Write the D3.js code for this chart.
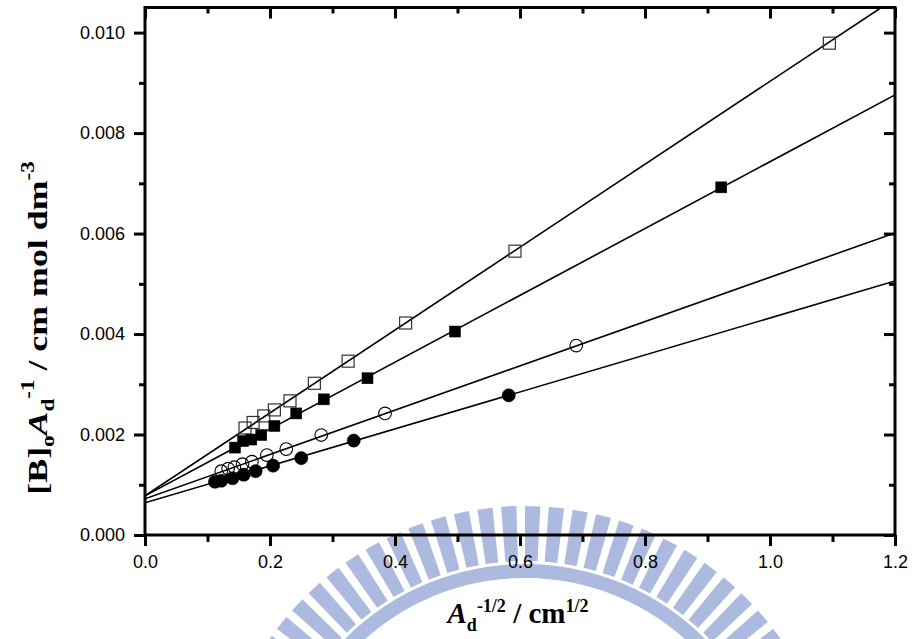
<!DOCTYPE html>
<html>
<head>
<meta charset="utf-8">
<script src="https://cdn.jsdelivr.net/npm/d3@7"></script>
<style>
  html, body { margin: 0; padding: 0; background: #fff; }
  svg { display: block; }
</style>
</head>
<body>
<svg id="chart" width="914" height="639"></svg>
<script>
// ---------------- data ----------------
const openSqX   = [0.160, 0.173, 0.190, 0.207, 0.232, 0.271, 0.325, 0.417, 0.592, 1.095];
const openSqY   = [0.00213, 0.00224, 0.00237, 0.00249, 0.00267, 0.00302, 0.00346, 0.00422, 0.00565, 0.00979];
const fillSqX   = [0.144, 0.157, 0.170, 0.186, 0.207, 0.242, 0.286, 0.356, 0.496, 0.922];
const fillSqY   = [0.00174, 0.00187, 0.00190, 0.00199, 0.00217, 0.00242, 0.00270, 0.00312, 0.00405, 0.00692];
const openCirX  = [0.122, 0.133, 0.143, 0.156, 0.171, 0.195, 0.226, 0.282, 0.384, 0.690];
const openCirY  = [0.00127, 0.00132, 0.00135, 0.00141, 0.00146, 0.00159, 0.00171, 0.00199, 0.00242, 0.00377];
const fillCirX  = [0.112, 0.122, 0.140, 0.158, 0.177, 0.205, 0.250, 0.334, 0.582];
const fillCirY  = [0.00106, 0.00108, 0.00113, 0.00120, 0.00127, 0.00138, 0.00153, 0.00188, 0.00278];
// linear fits: intercept and slope for each series (same order)
const fitIntercepts = [0.00078, 0.00078, 0.00072, 0.00064];
const fitSlopes     = [0.00825, 0.00665, 0.00441, 0.00368];
const xTickLabels = [0.0, 0.2, 0.4, 0.6, 0.8, 1.0, 1.2];
const yTickLabels = [0.000, 0.002, 0.004, 0.006, 0.008, 0.010];
const xMinorTicks = [0.1, 0.3, 0.5, 0.7, 0.9, 1.1];
const yMinorTicks = [0.001, 0.003, 0.005, 0.007, 0.009];

// ---------------- layout ----------------
const svg = d3.select("#chart");
const L = 145, R = 895, T = 7.5, B = 535;
const x = d3.scaleLinear().domain([0, 1.2]).range([L, R]);
const y = d3.scaleLinear().domain([0, 0.0105]).range([B, T]);

const series = [
  {xs: openSqX,  ys: openSqY,  shape: "sq",  filled: false},
  {xs: fillSqX,  ys: fillSqY,  shape: "sq",  filled: true},
  {xs: openCirX, ys: openCirY, shape: "cir", filled: false},
  {xs: fillCirX, ys: fillCirY, shape: "cir", filled: true}
];

// fit lines, clipped to the plot
svg.append("clipPath").attr("id", "clip")
  .append("rect").attr("x", L).attr("y", T).attr("width", R - L).attr("height", B - T);
const lineG = svg.append("g").attr("clip-path", "url(#clip)");
fitIntercepts.forEach((b, i) => {
  const m = fitSlopes[i];
  const xEnd = Math.min(1.2, (0.0105 - b) / m);
  lineG.append("line")
    .attr("x1", x(0)).attr("y1", y(b))
    .attr("x2", x(xEnd)).attr("y2", y(b + m * xEnd))
    .attr("stroke", "#000").attr("stroke-width", 1.6);
});

// markers
series.forEach(s => {
  const g = svg.append("g");
  const pts = s.xs.map((v, i) => [v, s.ys[i]]);
  if (s.shape === "sq") {
    const size = s.filled ? 11 : 12;
    g.selectAll("rect").data(pts).join("rect")
      .attr("x", d => x(d[0]) - size / 2).attr("y", d => y(d[1]) - size / 2)
      .attr("width", size).attr("height", size)
      .attr("fill", s.filled ? "#000" : "none")
      .attr("stroke", s.filled ? "#000" : "#333").attr("stroke-width", s.filled ? 0.5 : 1.2);
  } else {
    g.selectAll("circle").data(pts).join("circle")
      .attr("cx", d => x(d[0])).attr("cy", d => y(d[1]))
      .attr("r", s.filled ? 6.6 : 6.3)
      .attr("fill", s.filled ? "#000" : "none")
      .attr("stroke", "#000").attr("stroke-width", s.filled ? 0.5 : 1.1);
  }
});

// ---------------- axes ----------------
function styleAxis(g) {
  g.select(".domain").remove();
  g.selectAll(".tick line").attr("stroke", "#000").attr("stroke-width", 3);
  g.selectAll(".tick text").attr("font-family", "Liberation Sans, Arial, sans-serif")
    .attr("font-size", 18).attr("fill", "#000");
}
// bottom
svg.append("g").attr("transform", `translate(0,${B})`)
  .call(d3.axisBottom(x).tickValues(xTickLabels).tickSize(11).tickPadding(9).tickFormat(d3.format(".1f")))
  .call(styleAxis);
svg.append("g").attr("transform", `translate(0,${B})`)
  .call(d3.axisBottom(x).tickValues(xMinorTicks).tickSize(7).tickFormat(""))
  .call(styleAxis);
// top (inward)
svg.append("g").attr("transform", `translate(0,${T})`)
  .call(d3.axisBottom(x).tickValues(xTickLabels).tickSize(11).tickFormat(""))
  .call(styleAxis);
svg.append("g").attr("transform", `translate(0,${T})`)
  .call(d3.axisBottom(x).tickValues(xMinorTicks).tickSize(6).tickFormat(""))
  .call(styleAxis);
// left
svg.append("g").attr("transform", `translate(${L},0)`)
  .call(d3.axisLeft(y).tickValues(yTickLabels).tickSize(11).tickPadding(9).tickFormat(d3.format(".3f")))
  .call(styleAxis);
svg.append("g").attr("transform", `translate(${L},0)`)
  .call(d3.axisLeft(y).tickValues(yMinorTicks).tickSize(6).tickFormat(""))
  .call(styleAxis);
// right (inward)
svg.append("g").attr("transform", `translate(${R},0)`)
  .call(d3.axisLeft(y).tickValues(yTickLabels).tickSize(11).tickFormat(""))
  .call(styleAxis);
svg.append("g").attr("transform", `translate(${R},0)`)
  .call(d3.axisLeft(y).tickValues(yMinorTicks).tickSize(6).tickFormat(""))
  .call(styleAxis);

// frame
svg.append("rect").attr("x", L).attr("y", T).attr("width", R - L).attr("height", B - T)
  .attr("fill", "none").attr("stroke", "#000").attr("stroke-width", 3);

// ---------------- axis titles ----------------
const serif = "Liberation Serif, Times New Roman, serif";
const xt = svg.append("text").attr("x", 518).attr("y", 623)
  .attr("text-anchor", "middle").attr("font-family", serif)
  .attr("font-weight", "bold").attr("font-size", 29).attr("fill", "#000");
xt.append("tspan").attr("font-style", "italic").text("A");
xt.append("tspan").attr("font-size", 18).attr("dy", 8).text("d");
xt.append("tspan").attr("font-size", 18).attr("dy", -19).text("-1/2");
xt.append("tspan").attr("dy", 11).text(" / cm");
xt.append("tspan").attr("font-size", 18).attr("dy", -11).text("1/2");

const yt = svg.append("text").attr("transform", "translate(47,328) rotate(-90) scale(1.28,1)")
  .attr("text-anchor", "middle").attr("font-family", serif)
  .attr("font-weight", "bold").attr("font-size", 28).attr("fill", "#000");
yt.append("tspan").text("[B]");
yt.append("tspan").attr("font-size", 18).attr("dy", 7).text("o");
yt.append("tspan").attr("font-style", "italic").attr("dy", -7).text("A");
yt.append("tspan").attr("font-size", 18).attr("dy", 7).text("d");
yt.append("tspan").attr("font-size", 18).attr("dy", -20).text("-1");
yt.append("tspan").attr("dy", 13).text(" / cm mol dm");
yt.append("tspan").attr("font-size", 18).attr("dy", -13).text("-3");

// ---------------- watermark (light-blue logo, cropped at bottom) ----------------
const wm = svg.append("g").style("mix-blend-mode", "multiply").attr("fill", "#abbade");
const cx = 525, cy = 818, Ro = 312;
const arc = d3.arc();
const nRays = 82;
for (let k = 0; k < nRays; k++) {
  const a0 = (k / nRays) * 2 * Math.PI;
  const a1 = a0 + (2 * Math.PI / nRays) * 0.64;
  wm.append("path").attr("transform", `translate(${cx},${cy})`)
    .attr("d", arc({innerRadius: Ro - 55, outerRadius: Ro, startAngle: a0, endAngle: a1}));
}
wm.append("path").attr("transform", `translate(${cx},${cy})`)
  .attr("d", arc({innerRadius: Ro - 72, outerRadius: Ro - 58, startAngle: 0, endAngle: 2 * Math.PI}));
</script>
</body>
</html>
